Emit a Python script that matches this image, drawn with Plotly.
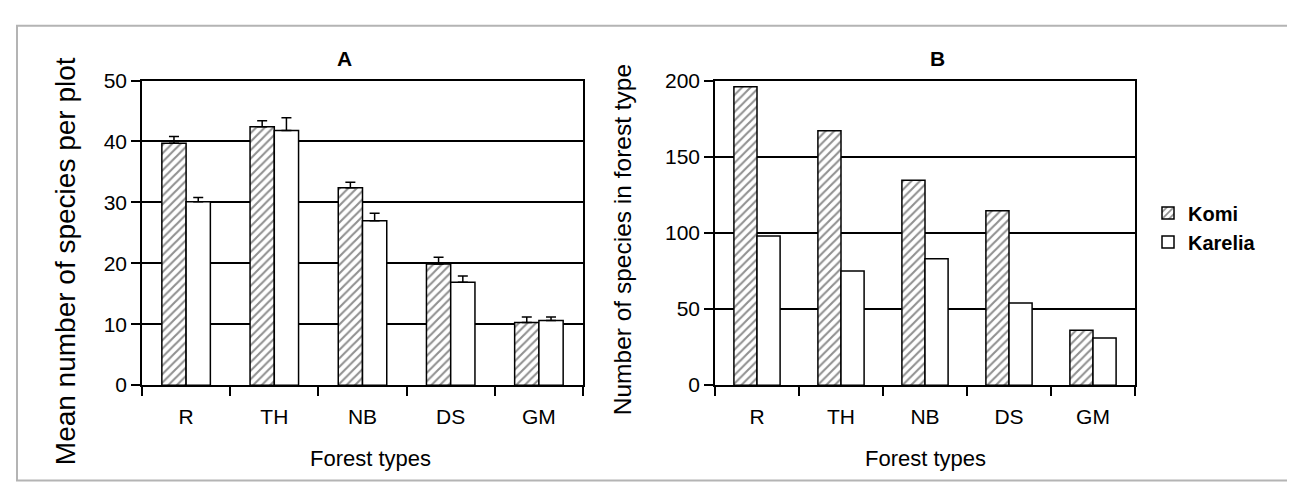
import plotly.graph_objects as go

categories = ["R", "TH", "NB", "DS", "GM"]

# Panel A: mean number of species per plot
komi_mean = [39.7, 42.4, 32.4, 19.9, 10.3]
komi_err = [1.1, 1.0, 0.9, 1.1, 0.9]
karelia_mean = [30.1, 41.8, 27.0, 16.9, 10.6]
karelia_err = [0.7, 2.1, 1.2, 1.0, 0.6]

# Panel B: number of species in forest type
komi_total = [196, 167, 134.5, 114.5, 36]
karelia_total = [98, 75, 83, 54, 31]

yticks_a = [0, 10, 20, 30, 40, 50]
yticks_b = [0, 50, 100, 150, 200]

W, H = 1295, 493
FONT = "Liberation Sans, Arial, sans-serif"


def px_x(p):
    return p / W


def px_y(p):
    return 1 - p / H


komi_pattern = dict(shape="/", fgcolor="#222222", bgcolor="white", size=6, solidity=0.35)
bar_line = dict(color="black", width=1.5)
err_style = dict(type="data", symmetric=False, color="black", thickness=1.5, width=5)

fig = go.Figure()

fig.add_trace(go.Bar(
    x=categories, y=komi_mean, name="Komi", legendgroup="komi",
    marker=dict(color="white", pattern=komi_pattern, line=bar_line),
    error_y=dict(array=komi_err, arrayminus=[0] * len(komi_err), **err_style),
    xaxis="x", yaxis="y", showlegend=False,
))
fig.add_trace(go.Bar(
    x=categories, y=karelia_mean, name="Karelia", legendgroup="karelia",
    marker=dict(color="white", line=bar_line),
    error_y=dict(array=karelia_err, arrayminus=[0] * len(karelia_err), **err_style),
    xaxis="x", yaxis="y", showlegend=False,
))
fig.add_trace(go.Bar(
    x=categories, y=komi_total, name="Komi", legendgroup="komi",
    marker=dict(color="white", pattern=komi_pattern, line=bar_line),
    xaxis="x2", yaxis="y2", showlegend=True,
))
fig.add_trace(go.Bar(
    x=categories, y=karelia_total, name="Karelia", legendgroup="karelia",
    marker=dict(color="white", line=bar_line),
    xaxis="x2", yaxis="y2", showlegend=True,
))

ydom = [px_y(383), px_y(63.5)]

xaxis_common = dict(
    type="category", showgrid=False, showline=True, linecolor="black", linewidth=1.5,
    mirror=True, ticks="outside", tickson="boundaries", ticklen=9, tickwidth=1.5,
    tickcolor="black", tickfont=dict(family=FONT, size=21, color="black"),
    ticklabelstandoff=12, fixedrange=True,
)
yaxis_common = dict(
    showgrid=True, gridcolor="black", gridwidth=1.5, showline=True, linecolor="black",
    linewidth=1.5, mirror=True, ticks="outside", ticklen=9, tickwidth=1.5,
    tickcolor="black", tickfont=dict(family=FONT, size=21, color="black"),
    zeroline=False, fixedrange=True,
)

fig.update_layout(
    width=W, height=H,
    margin=dict(l=0, r=0, t=0, b=0),
    paper_bgcolor="white", plot_bgcolor="white",
    barmode="group", bargap=0.45, bargroupgap=0,
    xaxis=dict(domain=[px_x(134), px_x(575)], anchor="y", **xaxis_common),
    yaxis=dict(domain=ydom, anchor="x", range=[0, 50], tickvals=yticks_a, **yaxis_common),
    xaxis2=dict(domain=[px_x(707), px_x(1127)], anchor="y2", **xaxis_common),
    yaxis2=dict(domain=ydom, anchor="x2", range=[0, 200], tickvals=yticks_b, **yaxis_common),
    legend=dict(
        x=px_x(1140), xanchor="left", y=px_y(182), yanchor="top",
        font=dict(family=FONT, size=20, color="black", weight="bold"),
        bgcolor="rgba(0,0,0,0)", tracegroupgap=12, traceorder="normal",
    ),
    showlegend=True,
)

annotations = [
    dict(text="<b>A</b>", x=px_x(336), y=px_y(40), font=dict(family=FONT, size=21)),
    dict(text="<b>B</b>", x=px_x(929), y=px_y(40), font=dict(family=FONT, size=21)),
    dict(text="Mean number of species per plot", x=px_x(57), y=px_y(253), textangle=-90,
         font=dict(family=FONT, size=28)),
    dict(text="Number of species in forest type", x=px_x(614), y=px_y(231), textangle=-90,
         font=dict(family=FONT, size=24.5)),
    dict(text="Forest types", x=px_x(362), y=px_y(460), font=dict(family=FONT, size=22)),
    dict(text="Forest types", x=px_x(917), y=px_y(460), font=dict(family=FONT, size=22)),
]
for a in annotations:
    a.update(xref="paper", yref="paper", showarrow=False, xanchor="center", yanchor="middle")
    a["font"]["color"] = "black"
fig.update_layout(annotations=annotations)

# outer frame of the picture
fig.add_shape(type="rect", xref="paper", yref="paper",
              x0=px_x(9), x1=px_x(1291), y0=px_y(483), y1=px_y(6),
              line=dict(color="#b4b4b4", width=2), fillcolor="rgba(0,0,0,0)", layer="below")

fig.write_html("out.html")
